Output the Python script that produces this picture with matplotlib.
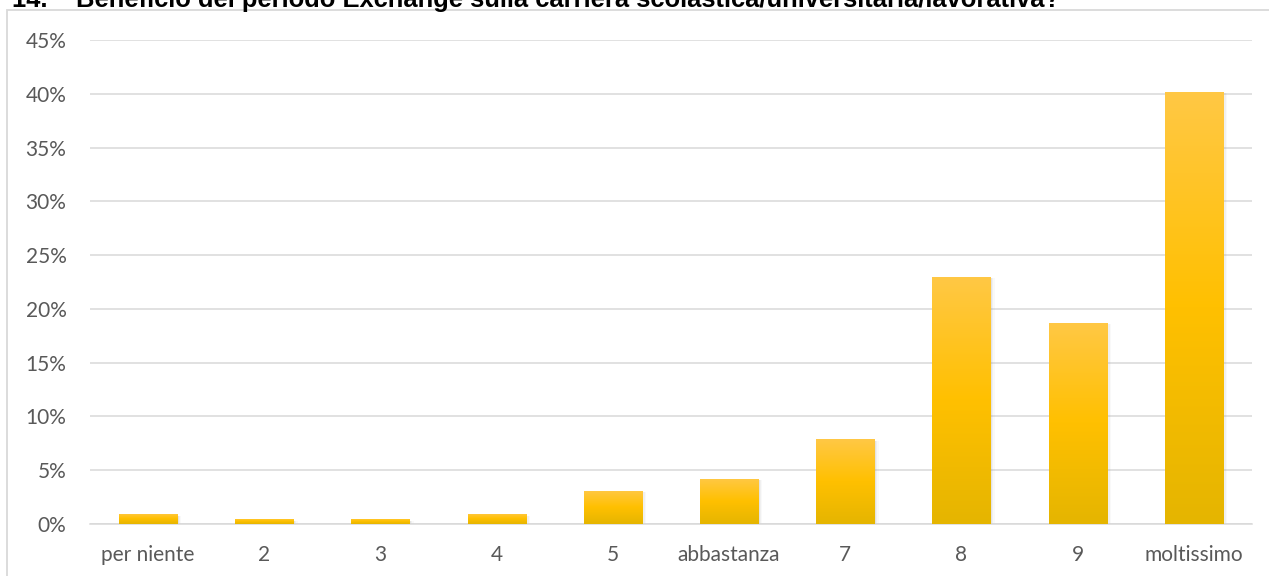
import matplotlib.pyplot as plt
import numpy as np
from matplotlib.colors import LinearSegmentedColormap
from matplotlib.patches import Rectangle
from matplotlib.ticker import FuncFormatter, MultipleLocator

# Risposte alla domanda 14 (percentuale sul totale)
categorie = ['per niente', '2', '3', '4', '5', 'abbastanza', '7', '8', '9', 'moltissimo']
percentuali = [0.93, 0.47, 0.47, 0.93, 3.1, 4.2, 7.9, 23.0, 18.7, 40.2]

titolo = '14.    Beneficio del periodo Exchange sulla carriera scolastica/universitaria/lavorativa?'

plt.rcParams['font.family'] = ['Lato', 'DejaVu Sans']

fig = plt.figure(figsize=(12.69, 5.76), dpi=100)
ax = fig.add_axes([90 / 1269, 52 / 576, 1162 / 1269, 484 / 576])

# bordo grigio del riquadro del grafico
fig.patches.append(Rectangle((7 / 1269, -0.1), 1.2, 1 - 10 / 576 + 0.1,
                             transform=fig.transFigure, fill=False,
                             edgecolor='#D9D9D9', linewidth=1.3, zorder=0))

# titolo tagliato in alto
fig.text(12 / 1269, 1 - 7 / 576, titolo, fontsize=18.4, fontweight='bold',
         family=['Liberation Sans', 'DejaVu Sans'], va='baseline', ha='left',
         color='black')

gradiente = LinearSegmentedColormap.from_list(
    'oro', ['#E5B500', '#FFC000', '#FFC845'])

x = np.arange(len(categorie))
larghezza = 0.5
for xi, val in zip(x, percentuali):
    h = val / 100
    # ombra morbida sul lato destro
    for k, a in enumerate([0.10, 0.07, 0.04]):
        off = 0.012 + k * 0.012
        ax.add_patch(Rectangle((xi - larghezza / 2 + off, -0.0015), larghezza, h,
                               facecolor='#7F7F7F', edgecolor='none',
                               alpha=a, zorder=2))
    barra = ax.bar(xi, h, width=larghezza, color='#FFC000', zorder=3)[0]
    img = ax.imshow(np.linspace(0, 1, 256).reshape(-1, 1), cmap=gradiente,
                    origin='lower', aspect='auto', zorder=3.5,
                    extent=[xi - larghezza / 2, xi + larghezza / 2, 0, h])
    img.set_clip_path(barra)

ax.set_xlim(-0.5, len(categorie) - 0.5)
ax.set_ylim(0, 0.45)
ax.yaxis.set_major_locator(MultipleLocator(0.05))
ax.yaxis.set_major_formatter(FuncFormatter(lambda v, p: f'{v * 100:.0f}%'))
ax.set_xticks(x)
ax.set_xticklabels(categorie)

ax.grid(axis='y', color='#D9D9D9', linewidth=1.1, zorder=0)
ax.set_axisbelow(True)
for lato in ['top', 'right', 'left']:
    ax.spines[lato].set_visible(False)
ax.spines['bottom'].set_color('#D9D9D9')
ax.spines['bottom'].set_linewidth(1.1)
ax.tick_params(axis='both', length=0, labelsize=15, labelcolor='#595959')
ax.tick_params(axis='y', pad=17)
ax.tick_params(axis='x', pad=15)

fig.savefig('out.png', dpi=100)
